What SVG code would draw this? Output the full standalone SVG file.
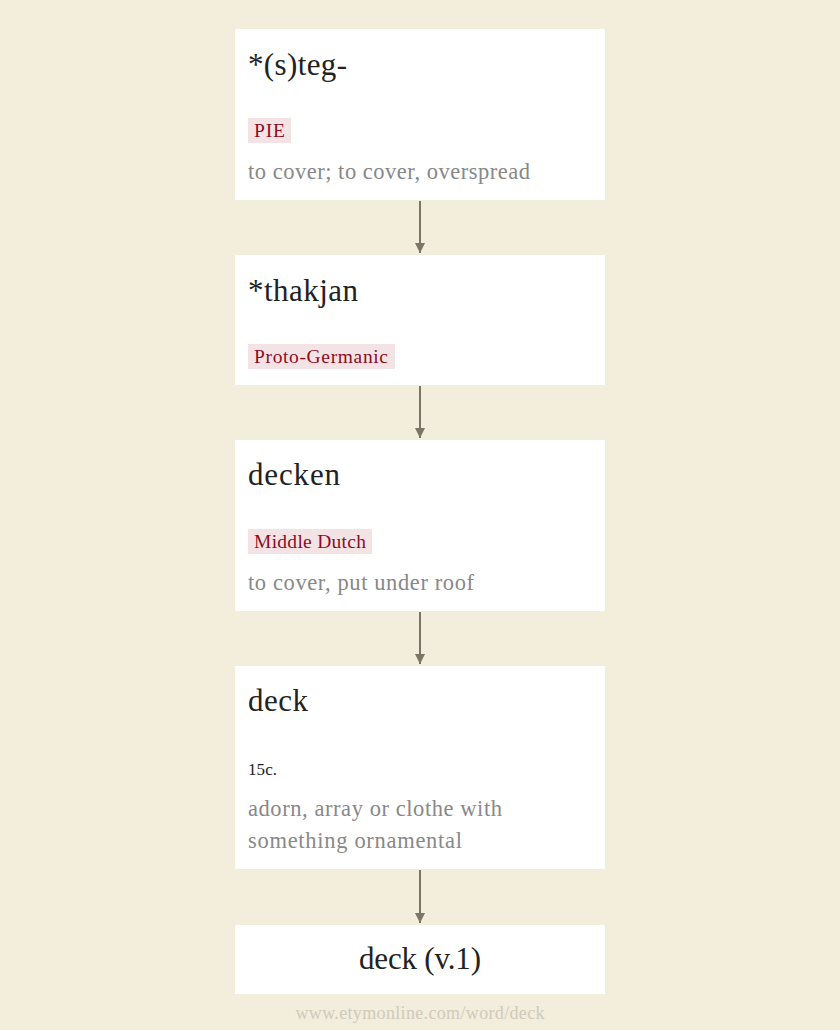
<svg xmlns="http://www.w3.org/2000/svg" width="840" height="1030" viewBox="0 0 840 1030">
<defs>
<style>
.box{fill:#ffffff}
.title{font-family:"Liberation Serif","DejaVu Serif",serif;font-size:31px;fill:#222}
.tagbg{fill:#f3e3e5}
.tag{font-family:"Liberation Serif","DejaVu Serif",serif;font-size:19.5px;fill:#8b0d24}
.gloss{font-family:"Liberation Serif","DejaVu Serif",serif;font-size:22.5px;fill:#888}
.date{font-family:"Liberation Serif","DejaVu Serif",serif;font-size:17px;fill:#222}
.conn{stroke:#7a7566;stroke-width:2;fill:none}
.foot{font-family:"Liberation Serif","DejaVu Serif",serif;font-size:18px;fill:#cfcabb}
</style>
<marker id="ah" viewBox="0 0 10 10" refX="10" refY="5" markerWidth="5" markerHeight="6" markerUnits="strokeWidth" orient="auto">
<path d="M0,0 L10,5 L0,10 z" fill="#7a7566"/>
</marker>
</defs>
<rect width="840" height="1030" fill="#f3eddb"/>
<g id="connectors">
<line class="conn" x1="420" y1="201" x2="420" y2="253" marker-end="url(#ah)"/>
<line class="conn" x1="420" y1="386" x2="420" y2="438" marker-end="url(#ah)"/>
<line class="conn" x1="420" y1="612" x2="420" y2="664" marker-end="url(#ah)"/>
<line class="conn" x1="420" y1="870" x2="420" y2="923" marker-end="url(#ah)"/>
</g>
<g id="node1">
<rect class="box" x="235" y="29" width="370" height="171"/>
<text class="title" x="248" y="75" textLength="99">*(s)teg-</text>
<rect class="tagbg" x="248" y="118" width="43" height="25"/>
<text class="tag" x="254" y="137" textLength="31">PIE</text>
<text class="gloss" x="248" y="179" textLength="282">to cover; to cover, overspread</text>
</g>
<g id="node2">
<rect class="box" x="235" y="255" width="370" height="130"/>
<text class="title" x="248" y="301" textLength="110">*thakjan</text>
<rect class="tagbg" x="248" y="344" width="147" height="25"/>
<text class="tag" x="254" y="363" textLength="134">Proto-Germanic</text>
</g>
<g id="node3">
<rect class="box" x="235" y="440" width="370" height="171"/>
<text class="title" x="248" y="485" textLength="92">decken</text>
<rect class="tagbg" x="248" y="529" width="124" height="25"/>
<text class="tag" x="254" y="548" textLength="112">Middle Dutch</text>
<text class="gloss" x="248" y="590" textLength="226">to cover, put under roof</text>
</g>
<g id="node4">
<rect class="box" x="235" y="666" width="370" height="203"/>
<text class="title" x="248" y="711" textLength="60">deck</text>
<text class="date" x="248" y="775" textLength="29">15c.</text>
<text class="gloss" x="248" y="816" textLength="254">adorn, array or clothe with</text>
<text class="gloss" x="248" y="848" textLength="214">something ornamental</text>
</g>
<g id="node5">
<rect class="box" x="235" y="925" width="370" height="69"/>
<text class="title" x="420" y="969" text-anchor="middle" textLength="122">deck (v.1)</text>
</g>
<text class="foot" x="420" y="1019" text-anchor="middle" textLength="249">www.etymonline.com/word/deck</text>
</svg>
